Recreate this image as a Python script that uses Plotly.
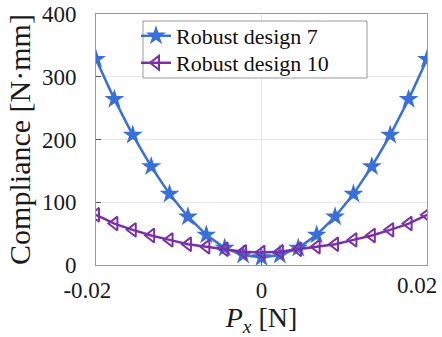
import plotly.graph_objects as go

px_vals = [-0.02, -0.017778, -0.015556, -0.013333, -0.011111, -0.008889, -0.006667, -0.004444, -0.002222, 0.0,
           0.002222, 0.004444, 0.006667, 0.008889, 0.011111, 0.013333, 0.015556, 0.017778, 0.02]
design7 = [328, 264, 207, 157, 113, 77, 48, 27, 16, 12,
           16, 27, 48, 77, 113, 157, 207, 264, 328]
design10 = [80, 66, 56, 47, 40, 33, 29, 25, 21, 20,
            21, 25, 29, 33, 40, 47, 56, 66, 80]

x_ticks = [-0.02, 0, 0.02]
x_ticklabels = ["-0.02", "0", "0.02"]
y_ticks = [0, 100, 200, 300, 400]

blue = "#3a6fd8"
purple = "#7a30a8"
font = "Liberation Serif, Times New Roman, Tinos, DejaVu Serif, serif"

# plot area in pixels
L, R, T, B = 96, 427, 14, 265
W, H = R - L, B - T
def xp(p): return (p - L) / W
def yp(p): return (B - p) / H

fig = go.Figure()
fig.add_trace(go.Scatter(
    x=px_vals, y=design7, mode="lines+markers", name="Robust design 7",
    line=dict(color=blue, width=2.5),
    marker=dict(symbol="star", size=15, color=blue, line=dict(width=0)),
    legend="legend",
))
fig.add_trace(go.Scatter(
    x=px_vals, y=design10, mode="lines+markers", name="Robust design 10",
    line=dict(color=purple, width=2.5),
    marker=dict(symbol="triangle-left-open", size=12, color=purple, line=dict(width=2, color=purple)),
    legend="legend2",
))

tickfont = dict(family=font, size=23, color="#1a1a1a")
axis_common = dict(
    showline=True, linecolor="#9a9a9a", linewidth=1, mirror=True,
    ticks="inside", ticklen=5, tickcolor="#555555",
    showgrid=True, gridcolor="#e6e6e6", gridwidth=1,
    zeroline=False,
    tickfont=tickfont,
    automargin=False,
)

# legend frame
fig.add_shape(type="rect", xref="paper", yref="paper",
              x0=xp(143), x1=xp(367), y0=yp(78), y1=yp(21),
              line=dict(color="#9a9a9a", width=1), fillcolor="white", layer="above")

leg_common = dict(
    xanchor="left", yanchor="middle",
    bgcolor="rgba(0,0,0,0)", borderwidth=0,
    font=dict(family=font, size=22, color="#111111"),
    itemwidth=30,
)

xrange = [x_ticks[0] - 1e-7, x_ticks[-1] + 1e-7]

fig.update_layout(
    width=442, height=337,
    margin=dict(l=L, r=442 - R, t=T, b=337 - B, autoexpand=False),
    paper_bgcolor="white", plot_bgcolor="white",
    font=dict(family=font, color="#1a1a1a"),
    showlegend=True,
    legend=dict(x=xp(136), y=yp(36), **leg_common),
    legend2=dict(x=xp(136), y=yp(63), **leg_common),
    xaxis=dict(
        range=xrange, tickvals=x_ticks[:2],
        ticktext=[x_ticklabels[0] + "\u00a0\u00a0\u00a0", x_ticklabels[1]],
        title=dict(text="<i>P</i><sub><i>x</i></sub> [N]", font=dict(family=font, size=28, color="#1a1a1a"), standoff=4),
        ticklabelstandoff=4,
        **axis_common,
    ),
    xaxis2=dict(
        overlaying="x", side="bottom", anchor="y", matches="x",
        range=xrange, tickvals=x_ticks[2:], ticktext=x_ticklabels[2:],
        ticks="", showgrid=False, showline=False, zeroline=False,
        tickfont=tickfont, ticklabelshift=-10, ticklabelstandoff=4,
        automargin=False,
    ),
    yaxis=dict(
        range=[0, 400], tickvals=y_ticks,
        title=dict(text="Compliance [N·mm]", font=dict(family=font, size=30, color="#1a1a1a"), standoff=2),
        ticklabelstandoff=14,
        **axis_common,
    ),
)
# invisible point so that the overlay axis carrying the right-hand tick label is drawn
fig.add_trace(go.Scatter(x=[x_ticks[2]], y=[design7[-1]], xaxis="x2", yaxis="y",
                         mode="markers", marker=dict(opacity=0), showlegend=False, hoverinfo="skip"))

fig.write_html("out.html")
